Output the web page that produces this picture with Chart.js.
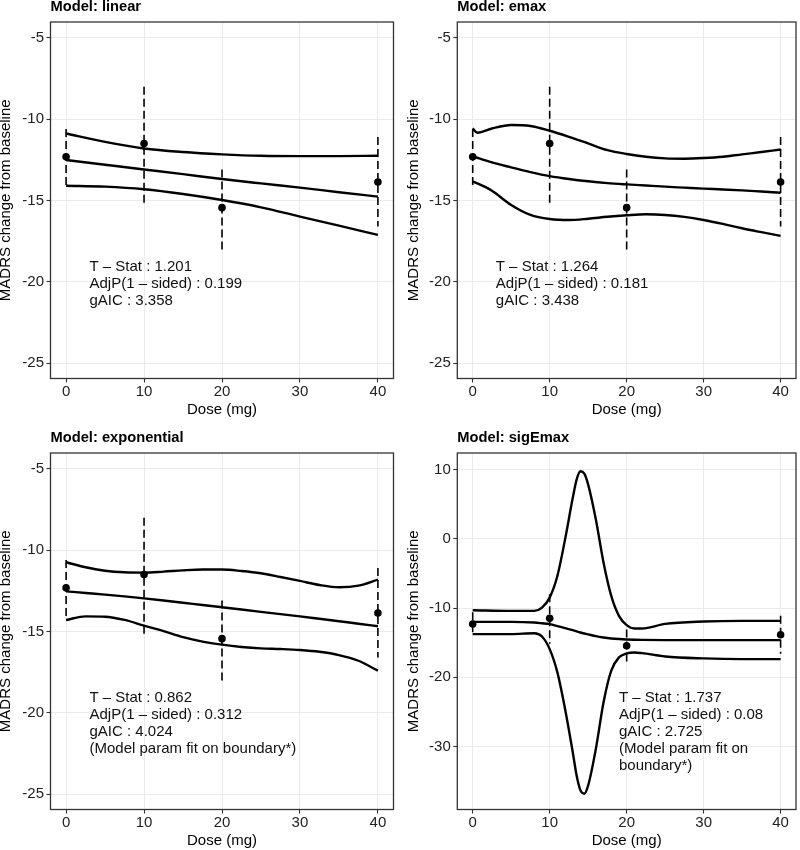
<!DOCTYPE html>
<html><head><meta charset="utf-8">
<script src="https://cdn.jsdelivr.net/npm/chart.js@4"></script>
<style>
html,body{margin:0;padding:0;background:#fff;overflow:hidden;width:800px;height:850px;position:relative;}
canvas{position:absolute;}
</style></head><body>
<canvas id="c1" width="400" height="425" style="left:0;top:0"></canvas>
<canvas id="c2" width="400" height="425" style="left:400px;top:0"></canvas>
<canvas id="c3" width="400" height="425" style="left:0;top:431px"></canvas>
<canvas id="c4" width="400" height="425" style="left:400px;top:431px"></canvas>
<script>
// Observed data (same in every panel)
const doses = [0, 10, 20, 40];
const obsMean = [-12.31, -11.49, -15.44, -13.86];
const obsLow = [-14.05, -15.15, -18.05, -16.6];
const obsHigh = [-10.6, -8.0, -13.1, -11.1];

const xTicks = [0, 10, 20, 30, 40];
const yTicksA = [-25, -20, -15, -10, -5];
const yTicksB = [-30, -20, -10, 0, 10];

// Model: linear
const linDose = [0, 5, 10, 15, 20, 25, 30, 35, 40];
const linUpper = [-10.88, -11.39, -11.80, -12.02, -12.16, -12.25, -12.27, -12.27, -12.25];
const linMean = [-12.51, -12.80, -13.09, -13.38, -13.68, -13.95, -14.21, -14.49, -14.76];
const linLower = [-14.09, -14.15, -14.31, -14.60, -14.97, -15.42, -15.99, -16.55, -17.12];

// Model: emax
const emaxDose = [0, 0.6, 2.5, 5, 7.5, 10, 12.5, 15, 17.5, 20, 22.5, 25, 27.5, 30, 32.5, 35, 37.5, 40];
const emaxUpper = [-10.57, -10.83, -10.57, -10.36, -10.42, -10.71, -11.08, -11.49, -11.90, -12.14, -12.31, -12.41, -12.43, -12.39, -12.31, -12.16, -12.02, -11.86];
const emaxMean = [-12.27, -12.37, -12.66, -12.96, -13.25, -13.50, -13.68, -13.82, -13.93, -14.01, -14.08, -14.15, -14.21, -14.27, -14.32, -14.38, -14.45, -14.52];
const emaxLower = [-13.84, -13.95, -14.40, -15.28, -15.89, -16.14, -16.20, -16.12, -16.00, -15.91, -15.85, -15.89, -16.01, -16.20, -16.44, -16.71, -16.95, -17.18];

// Model: exponential
const expDose = [0, 2.5, 5, 7.5, 10, 12.5, 15, 17.5, 20, 22.5, 25, 27.5, 30, 32.5, 35, 37.5, 40];
const expUpper = [-10.74, -11.05, -11.26, -11.36, -11.38, -11.32, -11.24, -11.19, -11.19, -11.28, -11.42, -11.65, -11.89, -12.14, -12.28, -12.18, -11.81];
const expMean = [-12.53, -12.63, -12.73, -12.84, -12.96, -13.09, -13.23, -13.37, -13.51, -13.65, -13.79, -13.93, -14.07, -14.22, -14.37, -14.52, -14.68];
const expLower = [-14.29, -14.07, -14.09, -14.29, -14.64, -14.98, -15.35, -15.62, -15.81, -15.95, -16.04, -16.08, -16.14, -16.25, -16.45, -16.80, -17.41];

// Model: sigEmax
const sigDose = [0, 5, 8, 9, 10, 11, 12, 13, 13.5, 14, 14.5, 15, 16, 17, 18, 19, 20, 21, 22, 25, 30, 35, 40];
const sigUpper = [-10.31, -10.41, -10.41, -9.93, -8.49, -5.37, -0.08, 5.92, 8.56, 9.76, 9.42, 7.84, 2.80, -3.45, -8.25, -11.13, -12.47, -12.95, -12.95, -12.28, -11.94, -11.85, -11.85];
const sigMean = [-11.99, -11.99, -12.09, -12.20, -12.33, -12.60, -12.90, -13.20, -13.37, -13.53, -13.67, -13.80, -14.06, -14.25, -14.39, -14.48, -14.54, -14.58, -14.60, -14.63, -14.63, -14.63, -14.63];
const sigLower = [-13.77, -13.77, -13.63, -14.11, -15.93, -19.29, -24.57, -30.82, -34.18, -36.34, -36.82, -35.62, -30.34, -23.61, -19.05, -17.13, -16.55, -16.41, -16.51, -16.99, -17.27, -17.37, -17.37];

const statsLinear = ['T – Stat : 1.201', 'AdjP(1 – sided) : 0.199', 'gAIC : 3.358'];
const statsEmax = ['T – Stat : 1.264', 'AdjP(1 – sided) : 0.181', 'gAIC : 3.438'];
const statsExp = ['T – Stat : 0.862', 'AdjP(1 – sided) : 0.312', 'gAIC : 4.024', '(Model param fit on boundary*)'];
const statsSig = ['T – Stat : 1.737', 'AdjP(1 – sided) : 0.08', 'gAIC : 2.725', '(Model param fit on', 'boundary*)'];

const FONT = '"Liberation Sans", Arial, Helvetica, sans-serif';
Chart.defaults.font.family = FONT;

const decor = {
  id: 'decor',
  afterDraw(chart, args, o) {
    const {ctx, chartArea: a, scales} = chart;
    ctx.save();
    ctx.strokeStyle = '#333';
    ctx.lineWidth = 1.3;
    ctx.strokeRect(a.left, a.top, a.right - a.left, a.bottom - a.top);
    ctx.fillStyle = '#000';
    ctx.textAlign = 'left';
    ctx.textBaseline = 'alphabetic';
    ctx.font = 'bold 14.7px ' + FONT;
    ctx.fillText(o.title, a.left, a.top - 11);
    ctx.font = '15px ' + FONT;
    ctx.fillStyle = '#111';
    ctx.textBaseline = 'middle';
    const x0 = scales.x.getPixelForValue(o.statX);
    const y0 = scales.y.getPixelForValue(o.statY);
    o.lines.forEach((t, i) => ctx.fillText(t, x0, y0 + i * 16.8));
    ctx.restore();
  }
};

function makeChart(id, p) {
  const ds = [];
  ds.push({data: doses.map((d, i) => ({x: d, y: obsMean[i]})), showLine: false,
           pointRadius: 3.8, pointBackgroundColor: '#000', pointBorderWidth: 0, borderColor: '#000'});
  doses.forEach((d, i) => ds.push({
    data: [{x: d, y: obsHigh[i]}, {x: d, y: obsLow[i]}], showLine: true,
    borderColor: '#000', borderWidth: 1.6, borderDash: [8, 4], pointRadius: 0
  }));
  [p.upper, p.mean, p.lower].forEach(arr => ds.push({
    data: p.dose.map((d, i) => ({x: d, y: arr[i]})), showLine: true,
    borderColor: '#000', borderWidth: 2.4, pointRadius: 0, cubicInterpolationMode: 'monotone'
  }));
  const grid = {color: '#ebebeb', lineWidth: 1, tickLength: 4, tickColor: '#333', tickWidth: 1.1, drawTicks: true};
  new Chart(document.getElementById(id), {
    type: 'scatter',
    data: {datasets: ds},
    plugins: [decor],
    options: {
      responsive: false, animation: false, events: [],
      layout: {padding: {left: 0, right: p.padRight, top: 22, bottom: 0}},
      plugins: {
        legend: {display: false}, tooltip: {enabled: false},
        decor: {title: p.title, lines: p.stats, statX: p.statX, statY: p.statY}
      },
      scales: {
        x: {
          type: 'linear', min: -2, max: 42,
          afterBuildTicks: s => { s.ticks = xTicks.map(v => ({value: v})); },
          afterFit: s => { s.height = 46.5; },
          grid: grid, border: {display: false},
          ticks: {color: '#222', font: {size: 15}, padding: 0, maxRotation: 0, autoSkip: false},
          title: {display: true, text: 'Dose (mg)', color: '#000', font: {size: 15}, padding: {top: 0, bottom: 6.3}}
        },
        y: {
          type: 'linear', min: p.yMin, max: p.yMax,
          afterBuildTicks: s => { s.ticks = p.yTicks.map(v => ({value: v})); },
          afterFit: s => { s.width = p.chartLeft; },
          grid: grid, border: {display: false},
          ticks: {color: '#222', font: {size: 15}, padding: 2.5, autoSkip: false},
          title: {display: true, text: 'MADRS change from baseline', color: '#000',
                  font: {size: 15, lineHeight: 0.68}, padding: {top: p.ylabPad, bottom: 0}}
        }
      }
    }
  });
}

makeChart('c1', {title: 'Model: linear', dose: linDose, upper: linUpper, mean: linMean, lower: linLower,
  yMin: -25.95, yMax: -4.02, yTicks: yTicksA, stats: statsLinear, statX: 3, statY: -19.08,
  chartLeft: 50.5, padRight: 6.5, ylabPad: 1});
makeChart('c2', {title: 'Model: emax', dose: emaxDose, upper: emaxUpper, mean: emaxMean, lower: emaxLower,
  yMin: -25.95, yMax: -4.02, yTicks: yTicksA, stats: statsEmax, statX: 3, statY: -19.08,
  chartLeft: 57.3, padRight: 0.7, ylabPad: 8.3});
makeChart('c3', {title: 'Model: exponential', dose: expDose, upper: expUpper, mean: expMean, lower: expLower,
  yMin: -25.95, yMax: -4.02, yTicks: yTicksA, stats: statsExp, statX: 3, statY: -19.1,
  chartLeft: 50.5, padRight: 6.5, ylabPad: 1});
makeChart('c4', {title: 'Model: sigEmax', dose: sigDose, upper: sigUpper, mean: sigMean, lower: sigLower,
  yMin: -39.1, yMax: 12.4, yTicks: yTicksB, stats: statsSig, statX: 19, statY: -23.03,
  chartLeft: 57.3, padRight: 0.7, ylabPad: 8.3});
</script>
</body></html>
